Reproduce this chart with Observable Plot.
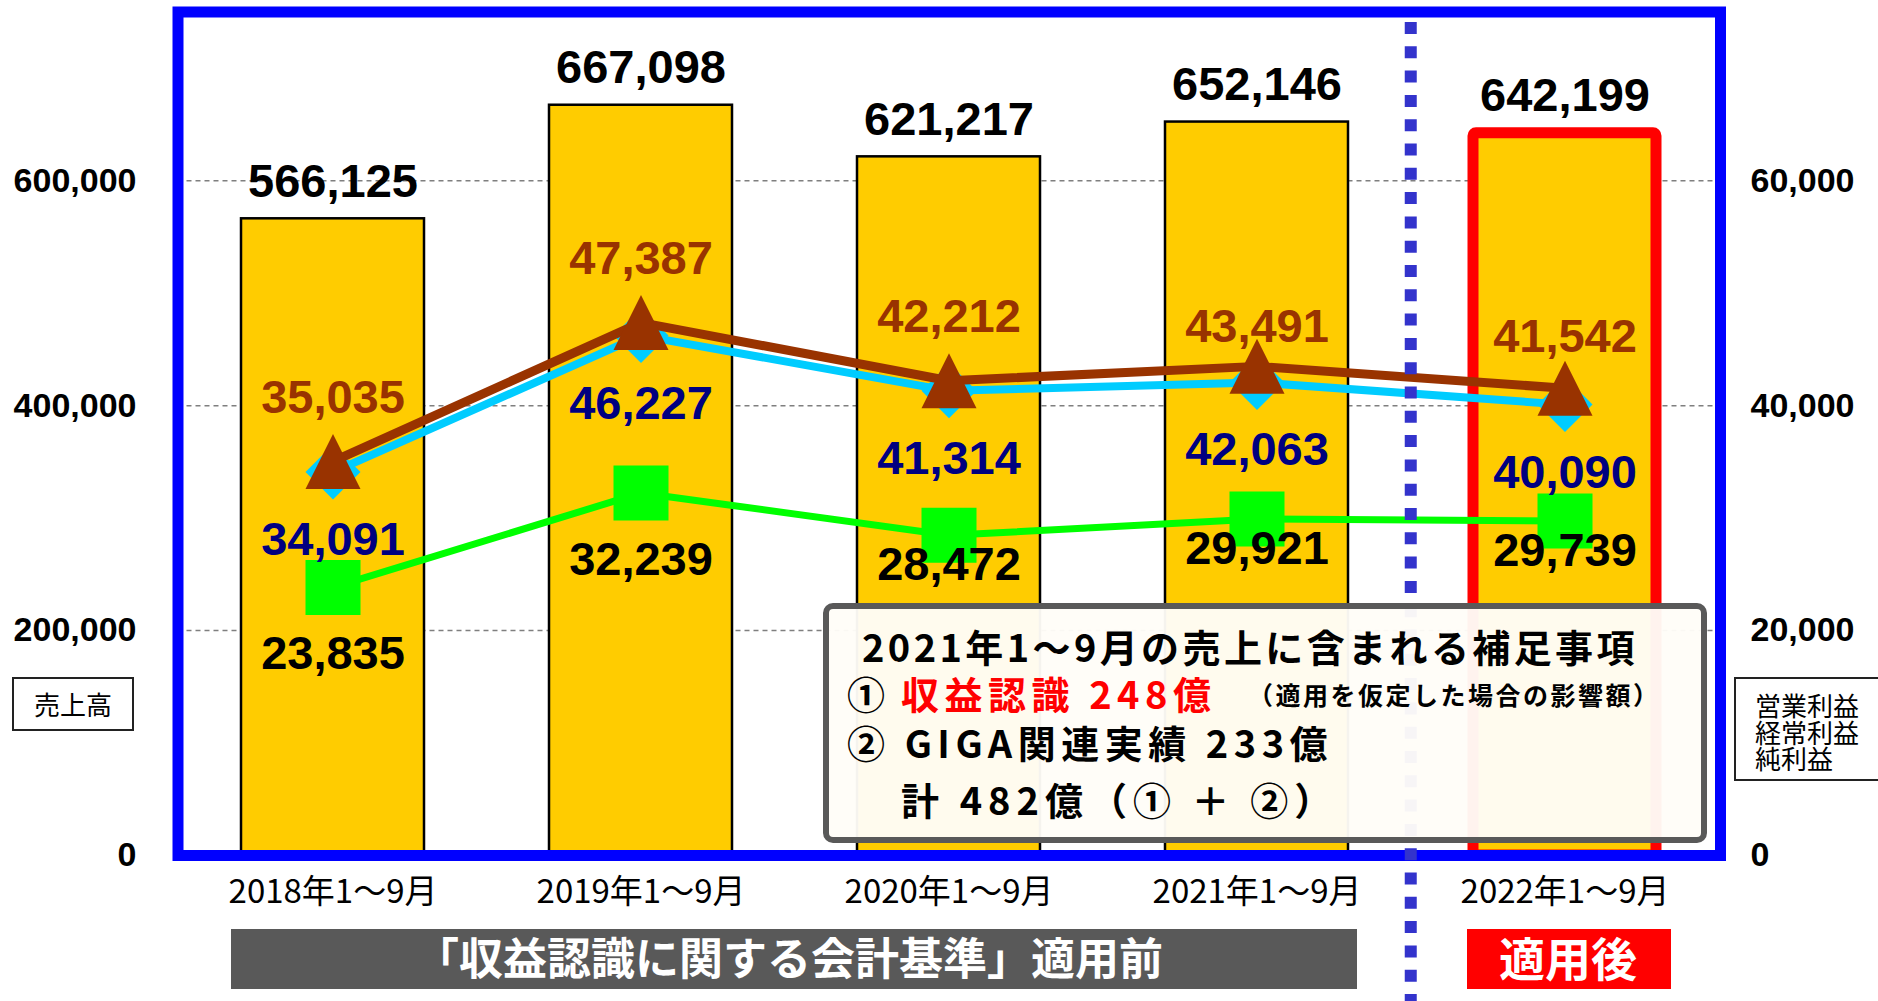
<!DOCTYPE html>
<html>
<head>
<meta charset="utf-8">
<script src="https://cdn.jsdelivr.net/npm/d3@7"></script>
<script src="https://cdn.jsdelivr.net/npm/@observablehq/plot@0.6"></script>
<style>
  html, body { margin: 0; padding: 0; overflow: hidden; background: #fff; }
  #wrap { position: relative; width: 1878px; height: 1001px; }
  #wrap svg { position: absolute; left: 0; top: 0; }
  .ov { position: absolute; box-sizing: border-box; }
  .jp { font-family: "Noto Sans CJK JP", sans-serif; }
  .t { position: absolute; white-space: pre; font-family: "Noto Sans CJK JP", sans-serif; font-weight: 700; color: #000; }
</style>
</head>
<body>
<div id="wrap"></div>
<script>
// ---- data ----
const categories = ["2018年1～9月", "2019年1～9月", "2020年1～9月", "2021年1～9月", "2022年1～9月"];
const sales      = [566125, 667098, 621217, 652146, 642199];   // 売上高 (left axis)
const operating  = [34091, 46227, 41314, 42063, 40090];        // 営業利益 (right axis)
const ordinary   = [35035, 47387, 42212, 43491, 41542];        // 経常利益 (right axis)
const netIncome  = [23835, 32239, 28472, 29921, 29739];        // 純利益 (right axis)
const leftTicks  = [0, 200000, 400000, 600000];
const rightTicks = [0, 20000, 40000, 60000];
const leftMax = 750000;
const rightMax = 75000;

// ---- layout ----
const W = 1878, H = 1001;
const mL = 177.5, mR = 158, mT = 11.5, mB = 146;
const k = leftMax / rightMax; // right-axis values mapped onto the left scale
const step = (W - mL - mR) / categories.length;

const rows = categories.map((c, i) => ({
  cat: c, i,
  sales: sales[i],
  op: operating[i] * k,
  ord: ordinary[i] * k,
  net: netIncome[i] * k,
  opL: operating[i], ordL: ordinary[i], netL: netIncome[i]
}));

const fmt = d3.format(",");
const numFont = "Liberation Sans, Arial, sans-serif";

// custom symbols (size = pi r^2)
const sq = { draw(ctx, size) { const r = Math.sqrt(size / Math.PI); ctx.rect(-r, -r, 2 * r, 2 * r); } };
const dia = { draw(ctx, size) { const r = Math.sqrt(size / Math.PI); ctx.moveTo(0, -r); ctx.lineTo(r, 0); ctx.lineTo(0, r); ctx.lineTo(-r, 0); ctx.closePath(); } };
const tri = { draw(ctx, size) { const r = Math.sqrt(size / Math.PI); ctx.moveTo(0, -r); ctx.lineTo(r, r); ctx.lineTo(-r, r); ctx.closePath(); } };

const last = categories.length - 1;
const labelText = (opts) => Object.assign({
  fontFamily: numFont, fontWeight: "bold", fontSize: 47
}, opts);

const chart = Plot.plot({
  width: W, height: H,
  marginLeft: mL, marginRight: mR, marginTop: mT, marginBottom: mB,
  x: { type: "band", domain: categories, paddingInner: 0.407, paddingOuter: 0.2035 },
  y: { domain: [0, leftMax] },
  style: { background: "transparent", overflow: "visible" },
  marks: [
    Plot.gridY(leftTicks.slice(1), { stroke: "#7f7f7f", strokeOpacity: 1, strokeWidth: 1.5, strokeDasharray: "5,4" }),
    Plot.barY(rows.filter(d => d.i < last), { x: "cat", y: "sales", fill: "#FFCC00", stroke: "#000", strokeWidth: 2.5 }),
    Plot.barY(rows.filter(d => d.i === last), { x: "cat", y: "sales", fill: "#FFCC00", stroke: "#FF0000", strokeWidth: 11, rx: 3 }),
    // net income
    Plot.line(rows, { x: "cat", y: "net", stroke: "#00FF00", strokeWidth: 7 }),
    Plot.dot(rows, { x: "cat", y: "net", symbol: sq, r: 27.5, fill: "#00FF00", stroke: "none" }),
    // operating income
    Plot.line(rows, { x: "cat", y: "op", stroke: "#00CCFF", strokeWidth: 8 }),
    Plot.dot(rows, { x: "cat", y: "op", symbol: dia, r: 27.5, fill: "#00CCFF", stroke: "none" }),
    // ordinary income
    Plot.line(rows, { x: "cat", y: "ord", stroke: "#993300", strokeWidth: 9 }),
    Plot.dot(rows, { x: "cat", y: "ord", symbol: tri, r: 27.5, fill: "#993300", stroke: "none" }),
    Plot.frame({ stroke: "#0000FF", strokeWidth: 11 }),
    Plot.ruleX([categories[last]], { x: d => d, dx: -step / 2, stroke: "#3333CC", strokeWidth: 12, strokeDasharray: "12,12.3", insetTop: 10.5, insetBottom: -mB }),
    // labels
    Plot.text(rows, labelText({ x: "cat", y: "sales", text: d => fmt(d.sales), dy: -37, fill: "#000" })),
    Plot.text(rows.filter(d => d.i <= 2), labelText({ x: "cat", y: "ord", text: d => fmt(d.ordL), dy: -64, fill: "#993300" })),
    Plot.text(rows.filter(d => d.i === 3), labelText({ x: "cat", y: "ord", text: d => fmt(d.ordL), dy: -39, fill: "#993300" })),
    Plot.text(rows.filter(d => d.i === 4), labelText({ x: "cat", y: "ord", text: d => fmt(d.ordL), dy: -51, fill: "#993300" })),
    Plot.text(rows, labelText({ x: "cat", y: "op", text: d => fmt(d.opL), dy: 68, fill: "#000080" })),
    Plot.text(rows.filter(d => d.i <= 1), labelText({ x: "cat", y: "net", text: d => fmt(d.netL), dy: 67, fill: "#000" })),
    Plot.text(rows.filter(d => d.i >= 2), labelText({ x: "cat", y: "net", text: d => fmt(d.netL), dy: 30, fill: "#000" })),
    // axes
    Plot.axisY(leftTicks, { anchor: "left", tickSize: 0, tickPadding: 41.5, tickFormat: fmt, label: null, fontSize: 34, fontWeight: "bold", fontFamily: numFont, fill: "#000" }),
    Plot.axisY(rightTicks.map(v => v * k), { anchor: "right", tickSize: 0, tickPadding: 30, tickFormat: v => fmt(v / k), label: null, fontSize: 34, fontWeight: "bold", fontFamily: numFont, fill: "#000" }),
    Plot.axisX({ anchor: "bottom", tickSize: 0, tickPadding: 24, label: null, fontSize: 33, fontFamily: "Noto Sans CJK JP, sans-serif", fill: "#000" })
  ]
});

const wrap = document.getElementById("wrap");
wrap.appendChild(chart);

function add(html) { wrap.insertAdjacentHTML("beforeend", html); }
function line(text, left, center, size, extra) {
  const L = Math.round(size * 1.3);
  const top = center - L / 2 - size * 0.056;
  return `<div class="t" style="left:${left}px;top:${top}px;font-size:${size}px;line-height:${L}px;${extra || ""}">${text}</div>`;
}

// axis title boxes
add(`<div class="ov jp" style="left:12px;top:677px;width:122px;height:54px;border:2px solid #222;font-size:26px;line-height:50px;text-align:center;">売上高</div>`);
add(`<div class="ov jp" style="left:1734px;top:677px;width:160px;height:104px;border:2px solid #222;font-size:26px;line-height:26.5px;padding:13px 0 0 19px;">営業利益<br>経常利益<br>純利益</div>`);

// bottom banners
add(`<div class="ov" style="left:231px;top:929px;width:1126px;height:60px;background:#595959;"></div>`);
add(line("「収益認識に関する会計基準」適用前", 415, 959, 44, "color:#fff;"));
add(`<div class="ov" style="left:1467px;top:929px;width:204px;height:60px;background:#FF0000;"></div>`);
add(line("適用後", 1499, 959, 46, "color:#fff;"));

// annotation box
add(`<div class="ov" style="left:823px;top:603px;width:884px;height:240px;border:6.5px solid #595959;border-radius:10px;background:rgba(255,253,248,0.96);"></div>`);
add(line("2021年1～9月の売上に含まれる補足事項", 862, 648, 38, "letter-spacing:3.4px;"));
add(line("①", 847, 695, 38));
add(line("収益認識 248億", 901, 695, 38, "color:#FF0000;letter-spacing:5.5px;"));
add(line("（適用を仮定した場合の影響額）", 1248, 696, 25, "letter-spacing:2.5px;"));
add(line("② GIGA関連実績 233億", 847, 744, 38, "letter-spacing:5.5px;"));
add(line("計 482億（① ＋ ②）", 901, 801, 38, "letter-spacing:6px;"));
</script>
</body>
</html>
